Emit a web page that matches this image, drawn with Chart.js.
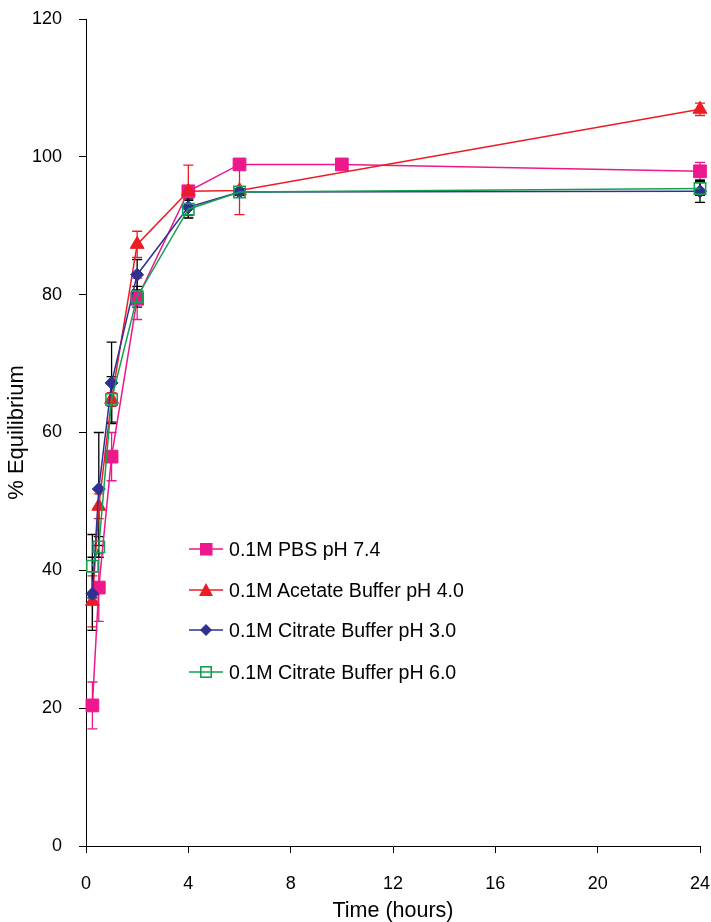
<!DOCTYPE html>
<html>
<head>
<meta charset="utf-8">
<script src="https://cdn.jsdelivr.net/npm/chart.js@4/dist/chart.umd.min.js"></script>
<style>
  html, body { margin:0; padding:0; background:#fff; }
  #wrap { position:relative; width:711px; height:922px; }
  #legend { position:absolute; left:0; top:0; font-family:"Liberation Sans", Arial, sans-serif; font-size:19.6px; color:#000; }
  .row { position:absolute; left:189px; height:30px; display:flex; align-items:center; white-space:nowrap; }
  .row svg { display:block; margin-right:5px; }
</style>
</head>
<body>
<div id="wrap">
  <canvas id="c" width="711" height="922"></canvas>
  <div id="legend"></div>
</div>
<script>
// ---- data ----
const timesMain = [0.25, 0.5, 1, 2, 4, 6, 24];
const timesPBS  = [0.25, 0.5, 1, 2, 4, 6, 10, 24];

const seriesNames = [
  "0.1M PBS pH 7.4",
  "0.1M Acetate Buffer pH 4.0",
  "0.1M Citrate Buffer pH 3.0",
  "0.1M Citrate Buffer pH 6.0"
];

const pbs74     = [20.4, 37.5, 56.5, 79.4, 95.0, 98.9, 98.9, 97.9];
const pbs74Err  = [3.4, 4.9, 3.5, 3.0, 0, 0, 0, 1.3];

const acetate40    = [35.5, 49.3, 64.8, 87.3, 95.0, 95.1, 106.9];
const acetate40Err = [3.7, 1.8, 1.0, 1.9, 3.8, 3.5, 0.9];

const citrate30    = [36.6, 51.8, 67.2, 82.9, 92.7, 94.9, 95.0];
const citrate30Err = [5.3, 8.2, 5.9, 2.2, 1.2, 0.5, 1.6];

const citrate60    = [40.6, 43.4, 64.8, 79.7, 92.4, 94.9, 95.4];
const citrate60Err = [4.6, 1.5, 3.3, 1.5, 1.3, 0.5, 1.0];

const xTicks = [0, 4, 8, 12, 16, 20, 24];
const yTicks = [0, 20, 40, 60, 80, 100, 120];

// ---- styles ----
const PINK = '#EC188C', RED = '#ED1C24', BLUE = '#2E3192', GREEN = '#12A150';

function pts(xs, ys) { return xs.map((x, i) => ({ x: x, y: ys[i] })); }

const datasets = [
  { label: seriesNames[0], data: pts(timesPBS, pbs74), errors: pbs74Err, errColor: PINK,
    borderColor: PINK, backgroundColor: PINK, pointStyle: 'rect', pointRadius: 9, order: 4 },
  { label: seriesNames[1], data: pts(timesMain, acetate40), errors: acetate40Err, errColor: RED,
    borderColor: RED, backgroundColor: RED, pointStyle: 'triangle', pointRadius: 8, order: 3 },
  { label: seriesNames[2], data: pts(timesMain, citrate30), errors: citrate30Err, errColor: '#000',
    borderColor: BLUE, backgroundColor: BLUE, pointStyle: 'rectRot', pointRadius: 6.5, order: 2 },
  { label: seriesNames[3], data: pts(timesMain, citrate60), errors: citrate60Err, errColor: '#000',
    borderColor: GREEN, backgroundColor: 'rgba(0,0,0,0)', pointStyle: 'rect', pointRadius: 8, pointBorderWidth: 1.6, order: 1 }
].map(d => Object.assign({ borderWidth: 1.5, pointBorderWidth: 1, pointBorderColor: d.borderColor,
    pointBackgroundColor: d.backgroundColor, tension: 0, fill: false, clip: false, pointHoverRadius: d.pointRadius }, d));

const errorBars = {
  id: 'errorBars',
  beforeDatasetsDraw(chart) {
    const { ctx, scales: { x, y } } = chart;
    ctx.save();
    ctx.lineWidth = 1.3;
    chart.data.datasets.forEach(ds => {
      ds.data.forEach((p, j) => {
        const e = ds.errors[j];
        if (!e) return;
        const px = x.getPixelForValue(p.x);
        const t = y.getPixelForValue(p.y + e);
        const b = y.getPixelForValue(p.y - e);
        ctx.strokeStyle = ds.errColor;
        ctx.beginPath();
        ctx.moveTo(px, t); ctx.lineTo(px, b);
        ctx.moveTo(px - 5, t); ctx.lineTo(px + 5, t);
        ctx.moveTo(px - 5, b); ctx.lineTo(px + 5, b);
        ctx.stroke();
      });
    });
    ctx.restore();
  }
};

const FONT = '"Liberation Sans", Arial, sans-serif';

new Chart(document.getElementById('c'), {
  type: 'line',
  data: { datasets: datasets },
  plugins: [errorBars],
  options: {
    responsive: false,
    animation: false,
    events: [],
    layout: { padding: { top: 19, right: 11, left: 0, bottom: 0 } },
    plugins: { legend: { display: false }, tooltip: { enabled: false } },
    scales: {
      x: {
        type: 'linear', min: 0, max: 24,
        afterBuildTicks(s) { s.ticks = xTicks.map(v => ({ value: v })); },
        afterFit(s) { s.height = 76; s.paddingLeft = 0; s.paddingRight = 0; },
        ticks: { color: '#000', font: { family: FONT, size: 18 }, padding: 20, maxRotation: 0 },
        grid: { drawOnChartArea: false, drawTicks: true, tickLength: 7, color: '#000', lineWidth: 1 },
        border: { display: true, color: '#000', width: 1 },
        title: { display: true, text: 'Time (hours)', color: '#000', font: { family: FONT, size: 21.5, lineHeight: 1.0 }, padding: { top: 0, bottom: 0 } }
      },
      y: {
        type: 'linear', min: 0, max: 120,
        afterBuildTicks(s) { s.ticks = yTicks.map(v => ({ value: v })); },
        afterFit(s) { s.width = 86; s.paddingTop = 0; s.paddingBottom = 0; },
        ticks: { color: '#000', font: { family: FONT, size: 18 }, padding: 17 },
        grid: { drawOnChartArea: false, drawTicks: true, tickLength: 7, color: '#000', lineWidth: 1 },
        border: { display: true, color: '#000', width: 1 },
        title: { display: true, text: '% Equilibrium', color: '#000', font: { family: FONT, size: 22, lineHeight: 1.0 }, padding: { top: 6, bottom: 0 } }
      }
    }
  }
});

// ---- legend (HTML text) ----
const legendRows = [549, 590, 630, 672];
const markers = [
  `<rect x="11" y="3" width="12.5" height="12.5" fill="${PINK}"/>`,
  `<polygon points="17,2 24,15 10,15" fill="${RED}"/>`,
  `<polygon points="17,3 23,9 17,15 11,9" fill="${BLUE}"/>`,
  `<rect x="11.8" y="3.8" width="10.4" height="10.4" fill="none" stroke="${GREEN}" stroke-width="1.6"/>`
];
const lineColors = [PINK, RED, BLUE, GREEN];
const leg = document.getElementById('legend');
seriesNames.forEach((name, i) => {
  const row = document.createElement('div');
  row.className = 'row';
  row.style.top = (legendRows[i] - 15) + 'px';
  row.innerHTML = `<svg width="35" height="18" viewBox="0 0 35 18"><line x1="0" y1="9" x2="34" y2="9" stroke="${lineColors[i]}" stroke-width="1.5"/>${markers[i]}</svg><span>${name}</span>`;
  leg.appendChild(row);
});
</script>
</body>
</html>
